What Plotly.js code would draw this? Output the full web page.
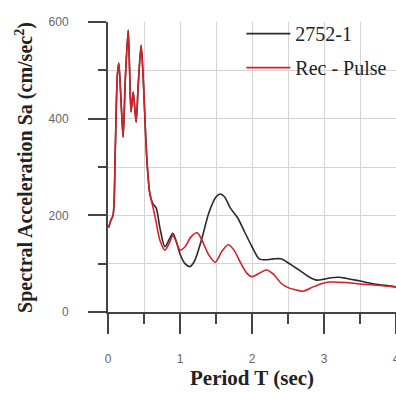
<!DOCTYPE html>
<html><head><meta charset="utf-8">
<script src="https://cdn.plot.ly/plotly-3.0.1.min.js"></script>
<style>html,body{margin:0;padding:0;background:#fff}#c{width:396px;height:394px}</style>
</head><body><div id="c"></div>
<script>
const periodBlack = [0.01,0.04,0.07,0.1,0.13,0.15,0.18,0.21,0.24,0.28,0.3,0.32,0.35,0.39,0.42,0.46,0.49,0.54,0.58,0.62,0.67,0.72,0.79,0.85,0.9,0.95,1.0,1.07,1.14,1.2,1.3,1.4,1.5,1.56,1.62,1.7,1.8,1.9,2.0,2.1,2.2,2.3,2.4,2.5,2.6,2.7,2.8,2.9,3.0,3.1,3.2,3.3,3.5,3.7,3.9,4.0];
const saBlack = [175,190,200,330,490,515,440,362,480,583,500,414,455,393,470,552,480,315,246,225,215,175,135,150,163,145,120,100,94,105,150,205,238,244,238,215,195,165,135,110,108,110,110,102,92,82,72,66,68,71,72,70,64,58,54,52];
const periodRed = [0.01,0.04,0.07,0.1,0.13,0.15,0.18,0.21,0.24,0.28,0.3,0.32,0.35,0.39,0.42,0.46,0.49,0.54,0.58,0.62,0.67,0.72,0.79,0.85,0.9,0.95,1.0,1.07,1.15,1.24,1.3,1.4,1.49,1.58,1.67,1.75,1.83,1.93,2.0,2.1,2.2,2.3,2.4,2.48,2.6,2.71,2.85,3.0,3.1,3.3,3.5,3.7,4.0];
const saRed = [175,190,200,330,490,515,440,362,480,583,500,414,455,393,470,552,480,315,246,220,185,149,128,142,158,145,128,135,155,164,150,118,103,125,139,128,105,80,73,80,87,78,60,52,46,43,52,60,62,61,58,56,52];
const seriesNames = ['2752-1','Rec - Pulse'];
const yTitle = '<b>Spectral Acceleration Sa (cm/sec<sup>2</sup>)</b>';
const xTitle = '<b>Period T (sec)</b>';

const axisCommon = {
  showline:true, linecolor:'#444', linewidth:2, mirror:false,
  ticks:'outside', tickcolor:'#444', tickwidth:2,
  showgrid:true, gridcolor:'#d4d4d4', gridwidth:1, zeroline:false,
  ticklabeloverflow:'allow',
  tickfont:{family:'Liberation Sans, Arial, sans-serif', size:12, color:'#666'}
};
const data = [
  {x:periodBlack, y:saBlack, name:seriesNames[0], type:'scatter', mode:'lines',
   line:{color:'#2a2a2a', width:1.6, shape:'spline', smoothing:0.8}, legendgroup:'a'},
  {x:periodRed, y:saRed, name:seriesNames[1], type:'scatter', mode:'lines',
   line:{color:'#d42028', width:1.6, shape:'spline', smoothing:0.8}, legendgroup:'b'}
];
const layout = {
  width:396, height:394,
  margin:{l:108, r:0, t:22, b:82},
  paper_bgcolor:'#fff', plot_bgcolor:'#fff',
  showlegend:true,
  legend:{x:0.463, y:1.027, xanchor:'left', yanchor:'top', bgcolor:'rgba(0,0,0,0)',
    font:{family:'Liberation Serif, Times New Roman, serif', size:20, color:'#222'},
    itemwidth:44, tracegroupgap:5},
  xaxis:Object.assign({}, axisCommon, {
    range:[0,4], dtick:1, tick0:0, ticklen:20, ticklabelstandoff:15,
    minor:{dtick:0.5, ticks:'outside', ticklen:10, tickcolor:'#444', tickwidth:2, showgrid:true, gridcolor:'#d4d4d4'},
    title:{text:xTitle, standoff:4,
      font:{family:'Liberation Serif, Times New Roman, serif', size:21, color:'#222'}}
  }),
  yaxis:Object.assign({}, axisCommon, {
    range:[0,600], dtick:200, tick0:0, ticklen:18, ticklabelstandoff:17,
    minor:{dtick:100, ticks:'outside', ticklen:8, tickcolor:'#444', tickwidth:2, showgrid:true, gridcolor:'#d4d4d4'}
  }),
  annotations:[{
    text:yTitle, xref:'paper', yref:'paper', x:-0.2917, y:0.5,
    xanchor:'center', yanchor:'middle', textangle:-90, showarrow:false,
    font:{family:'Liberation Serif, Times New Roman, serif', size:20, color:'#222'}
  }]
};
Plotly.newPlot('c', data, layout, {staticPlot:true, displayModeBar:false});
</script></body></html>
